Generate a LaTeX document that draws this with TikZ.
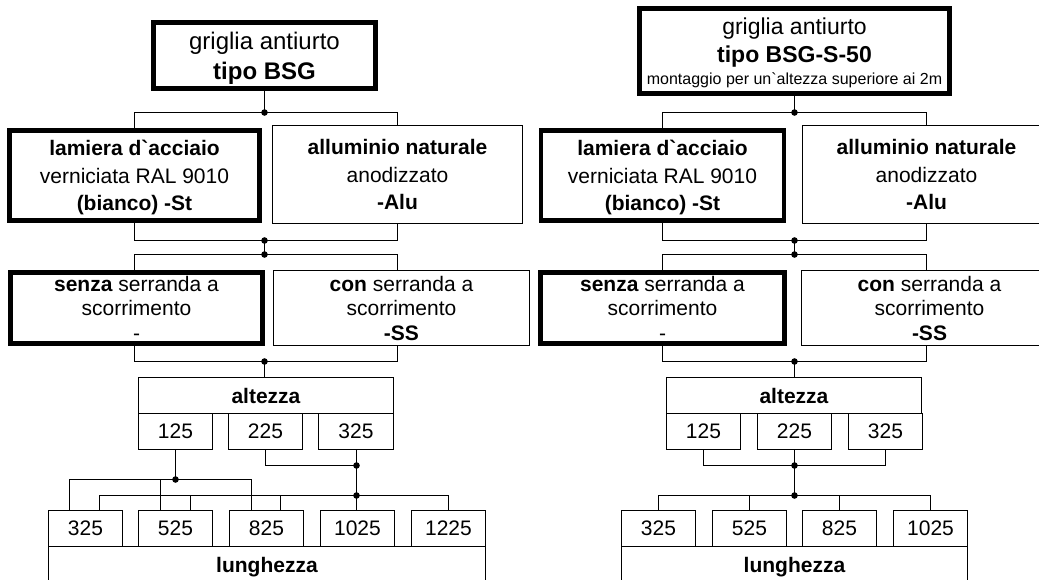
\documentclass[tikz,border=0pt]{standalone}
\usepackage{fontspec}
\setmainfont{Liberation Sans}

\begin{document}
\begin{tikzpicture}[
  x=1pt, y=-1pt,
  font=\fontsize{21}{27.5}\selectfont,
  box/.style={draw, line width=1pt, rectangle, inner sep=0pt, text depth=0pt, align=center},
  sel/.style={box, line width=4.8pt},
  val/.style={box, minimum width=74pt, minimum height=36pt},
  link/.style={line width=1pt},
  dot/.style={circle, fill, inner sep=0pt, minimum size=6.6pt}
]
\path[use as bounding box] (0,0) rectangle (1039,580);
\clip (0,0) rectangle (1039,580);

% left tree: tipo BSG
\node[sel, minimum width=221.5pt, minimum height=66.5pt, font=\fontsize{24}{30}\selectfont] (topL) at (264.5,55.5) {griglia antiurto\\\textbf{tipo BSG}};
\node[sel, minimum width=250pt, minimum height=90.5pt] (lamL) at (134.5,175.5) {\textbf{lamiera d\textasciigrave acciaio}\\verniciata RAL 9010\\\textbf{(bianco) -St}};
\node[box, minimum width=250pt, minimum height=98pt] (aluL) at (397.5,174.5) {\textbf{alluminio naturale}\\anodizzato\\\textbf{-Alu}};
\node[sel, minimum width=252pt, minimum height=71pt, font=\fontsize{21}{24.5}\selectfont] (senL) at (136.5,308) {\textbf{senza} serranda a\\scorrimento\\-};
\node[box, minimum width=256pt, minimum height=75pt, font=\fontsize{21}{24.5}\selectfont] (conL) at (401.5,308) {\textbf{con} serranda a\\scorrimento\\\textbf{-SS}};
\node[box, minimum width=255pt, minimum height=36pt] (altL) at (266,395.5) {\textbf{altezza}};
\node[val] (h125L) at (175.5,431.5) {125};
\node[val] (h225L) at (265.5,431.5) {225};
\node[val, minimum width=75pt] (h325L) at (356,431.5) {325};
\node[val] (l325L) at (85.5,528.5) {325};
\node[val] (l525L) at (175.5,528.5) {525};
\node[val] (l825L) at (266.5,528.5) {825};
\node[val] (l1025L) at (357.5,528.5) {1025};
\node[val] (l1225L) at (448.5,528.5) {1225};
\node[box, minimum width=437pt, minimum height=36pt] (lunL) at (267,564.5) {\textbf{lunghezza}};

\node[dot] (j1L) at (264.5,112.5) {};
\node[dot] (j2L) at (264.5,240.5) {};
\node[dot] (j3L) at (264.5,254.5) {};
\node[dot] (j4L) at (264.5,361.5) {};
\node[dot] (j5L) at (175.5,479.5) {};
\node[dot] (j6L) at (356.5,465.5) {};
\node[dot] (j7L) at (356.5,495.5) {};

\draw[link] (topL.south -| j1L) -- (j1L.center);
\draw[link] (lamL.north) |- (j1L.center) -| (aluL.north);
\draw[link] (lamL.south) |- (j2L.center) -| (aluL.south);
\draw[link] (j2L.center) -- (j3L.center);
\draw[link] (lamL.south |- senL.north) |- (j3L.center) -| (aluL.south |- conL.north);
\draw[link] (lamL.south |- senL.south) |- (j4L.center) -| (aluL.south |- conL.south);
\draw[link] (j4L.center) -- (j4L |- altL.north);
\draw[link] (h125L.south) -- (j5L.center);
\draw[link] ([xshift=-16pt]l325L.north) |- (j5L.center) -| ([xshift=-15pt]l825L.north);
\draw[link] ([xshift=-15pt]l525L.north) |- (j5L.center);
\draw[link] (h225L.south) |- (j6L.center);
\draw[link] (j6L |- h325L.south) -- (j6L.center) -- (j7L.center);
\draw[link] ([xshift=14pt]l325L.north) |- (j7L.center) -| (l1225L.north);
\draw[link] ([xshift=15pt]l525L.north) |- (j7L.center);
\draw[link] ([xshift=14pt]l825L.north) |- (j7L.center);
\draw[link] (j7L |- l1025L.north) -- (j7L.center);

% right tree: tipo BSG-S-50
\node[sel, minimum width=310.5pt, minimum height=85.5pt, font=\fontsize{23}{28}\selectfont] (topR) at (794.5,51) {griglia antiurto\\\textbf{tipo BSG-S-50}\\[-6pt]{\fontsize{16}{20}\selectfont montaggio per un\textasciigrave altezza superiore ai 2m}};
\node[sel, minimum width=243pt, minimum height=90.5pt] (lamR) at (662.5,175.5) {\textbf{lamiera d\textasciigrave acciaio}\\verniciata RAL 9010\\\textbf{(bianco) -St}};
\node[box, minimum width=248pt, minimum height=98pt] (aluR) at (926.5,174.5) {\textbf{alluminio naturale}\\anodizzato\\\textbf{-Alu}};
\node[sel, minimum width=244pt, minimum height=71pt, font=\fontsize{21}{24.5}\selectfont] (senR) at (662.5,308) {\textbf{senza} serranda a\\scorrimento\\-};
\node[box, minimum width=256pt, minimum height=75pt, font=\fontsize{21}{24.5}\selectfont] (conR) at (929.5,308) {\textbf{con} serranda a\\scorrimento\\\textbf{-SS}};
\node[box, minimum width=255pt, minimum height=36pt] (altR) at (794,395.5) {\textbf{altezza}};
\node[val] (h125R) at (703.5,431.5) {125};
\node[val] (h225R) at (794.5,431.5) {225};
\node[val] (h325R) at (885.5,431.5) {325};
\node[val] (l325R) at (658.5,528.5) {325};
\node[val] (l525R) at (749.5,528.5) {525};
\node[val] (l825R) at (839.5,528.5) {825};
\node[val] (l1025R) at (930.5,528.5) {1025};
\node[box, minimum width=346pt, minimum height=36pt] (lunR) at (794.5,564.5) {\textbf{lunghezza}};

\node[dot] (j1R) at (794.5,112.5) {};
\node[dot] (j2R) at (794.5,240.5) {};
\node[dot] (j3R) at (794.5,254.5) {};
\node[dot] (j4R) at (794.5,361.5) {};
\node[dot] (j5R) at (794.5,465.5) {};
\node[dot] (j6R) at (794.5,495.5) {};

\draw[link] (topR.south) -- (j1R.center);
\draw[link] (lamR.north) |- (j1R.center) -| (aluR.north);
\draw[link] (lamR.south) |- (j2R.center) -| (aluR.south);
\draw[link] (j2R.center) -- (j3R.center);
\draw[link] (senR.north) |- (j3R.center) -| (aluR.south |- conR.north);
\draw[link] (senR.south) |- (j4R.center) -| (aluR.south |- conR.south);
\draw[link] (j4R.center) -- (j4R |- altR.north);
\draw[link] (h125R.south) |- (j5R.center) -| (h325R.south);
\draw[link] (h225R.south) -- (j5R.center) -- (j6R.center);
\draw[link] (l325R.north) |- (j6R.center) -| (l1025R.north);
\draw[link] (l525R.north) |- (j6R.center);
\draw[link] (l825R.north) |- (j6R.center);
\end{tikzpicture}
\end{document}
